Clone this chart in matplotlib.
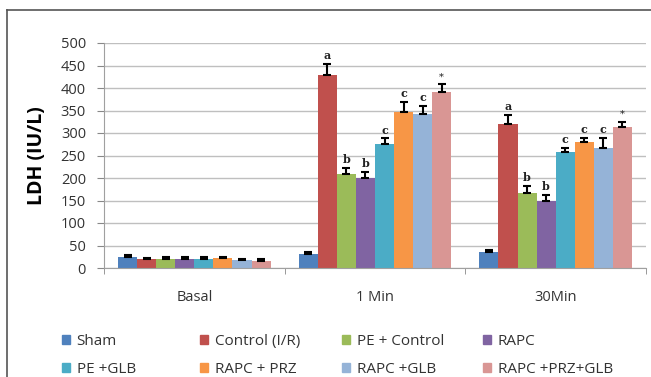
import numpy as np
import matplotlib
matplotlib.use('Agg')
import matplotlib.pyplot as plt
from matplotlib.lines import Line2D
from matplotlib.patches import Patch

# Dados
periodos = ['Basal', '1 Min', '30Min']
grupos = ['Sham', 'Control (I/R)', 'PE + Control', 'RAPC',
          'PE +GLB', 'RAPC + PRZ', 'RAPC +GLB', 'RAPC +PRZ+GLB']
cores = ['#4F81BD', '#C0504D', '#9BBB59', '#8064A2',
         '#4BACC6', '#F79646', '#95B3D7', '#D99694']

# valores (linhas = grupos, colunas = períodos)
valores = [
    [24, 31, 36],
    [20, 428, 319],
    [21, 209, 167],
    [21, 201, 149],
    [19, 276, 258],
    [22, 347, 279],
    [18, 342, 267],
    [16, 391, 314],
]
erros = [
    [6, 5, 5],
    [3, 26, 22],
    [3, 14, 15],
    [3, 12, 14],
    [5, 12, 9],
    [3, 22, 10],
    [2, 18, 22],
    [3, 17, 11],
]
letras = ['', 'a', 'b', 'b', 'c', 'c', 'c', '*']

plt.rcParams['font.family'] = ['Open Sans', 'DejaVu Sans']

fig = plt.figure(figsize=(6.51, 3.77), dpi=100)
ax = fig.add_axes([104 / 651, 1 - 268 / 377, 542 / 651, 225 / 377])

x = np.arange(len(periodos))
largura = 0.1055
n = len(grupos)

for i in range(n):
    pos = x + (i - (n - 1) / 2) * largura
    ax.bar(pos, valores[i], largura, color=cores[i], zorder=2)
    ax.errorbar(pos, valores[i], yerr=[np.zeros(3), erros[i]], fmt='none',
                ecolor='black', elinewidth=1.5, capsize=3, capthick=1.5, zorder=3)
    if letras[i]:
        for j in range(1, 3):
            ax.annotate(letras[i], (pos[j], valores[i][j] + erros[i][j]),
                        xytext=(0, 2), textcoords='offset points',
                        ha='center', va='bottom', family='DejaVu Serif',
                        fontsize=8 if letras[i] != '*' else 7,
                        fontweight='bold' if letras[i] != '*' else 'normal',
                        color='#222222', zorder=4)

ax.set_ylim(0, 500)
ax.set_yticks(np.arange(0, 501, 50))
ax.set_xlim(-0.5, 2.5)
ax.set_xticks(x)
ax.set_xticklabels(periodos, fontsize=10.5, color='#333333')
ax.set_xticks([-0.5, 0.5, 1.5, 2.5], minor=True)
ax.tick_params(axis='x', which='major', length=0, pad=16)
ax.tick_params(axis='x', which='minor', length=4, color='#888888')
ax.tick_params(axis='y', length=5, color='#888888', labelsize=10.5, labelcolor='#333333', pad=8)
ax.yaxis.grid(True, color='#BFBFBF', linewidth=1, zorder=0)
ax.set_axisbelow(True)
for s in ['top', 'right']:
    ax.spines[s].set_visible(False)
ax.spines['left'].set_color('#A0A0A0')
ax.spines['bottom'].set_color('#A0A0A0')
ax.set_ylabel('LDH (IU/L)', fontsize=14, fontweight='bold', labelpad=10)

# Legenda: quatro colunas de largura fixa, duas linhas
handles = [Patch(color=c) for c in cores]
col_x = [62, 200, 342, 483]
for c in range(4):
    fig.legend([handles[c], handles[c + 4]], [grupos[c], grupos[c + 4]],
               loc='upper left', bbox_to_anchor=(col_x[c] / 651, 1 - 334 / 377),
               frameon=False, fontsize=11, handlelength=0.55, handleheight=0.55,
               handletextpad=0.4, labelspacing=0.85, borderpad=0, borderaxespad=0,
               labelcolor='#333333')

# Moldura
fig.add_artist(Line2D([7 / 651, 7 / 651], [0, 1 - 10 / 377], color='#555555', lw=1.2))
fig.add_artist(Line2D([7 / 651, 1], [1 - 10 / 377, 1 - 10 / 377], color='#555555', lw=1.2))

fig.savefig('out.png', dpi=100)
